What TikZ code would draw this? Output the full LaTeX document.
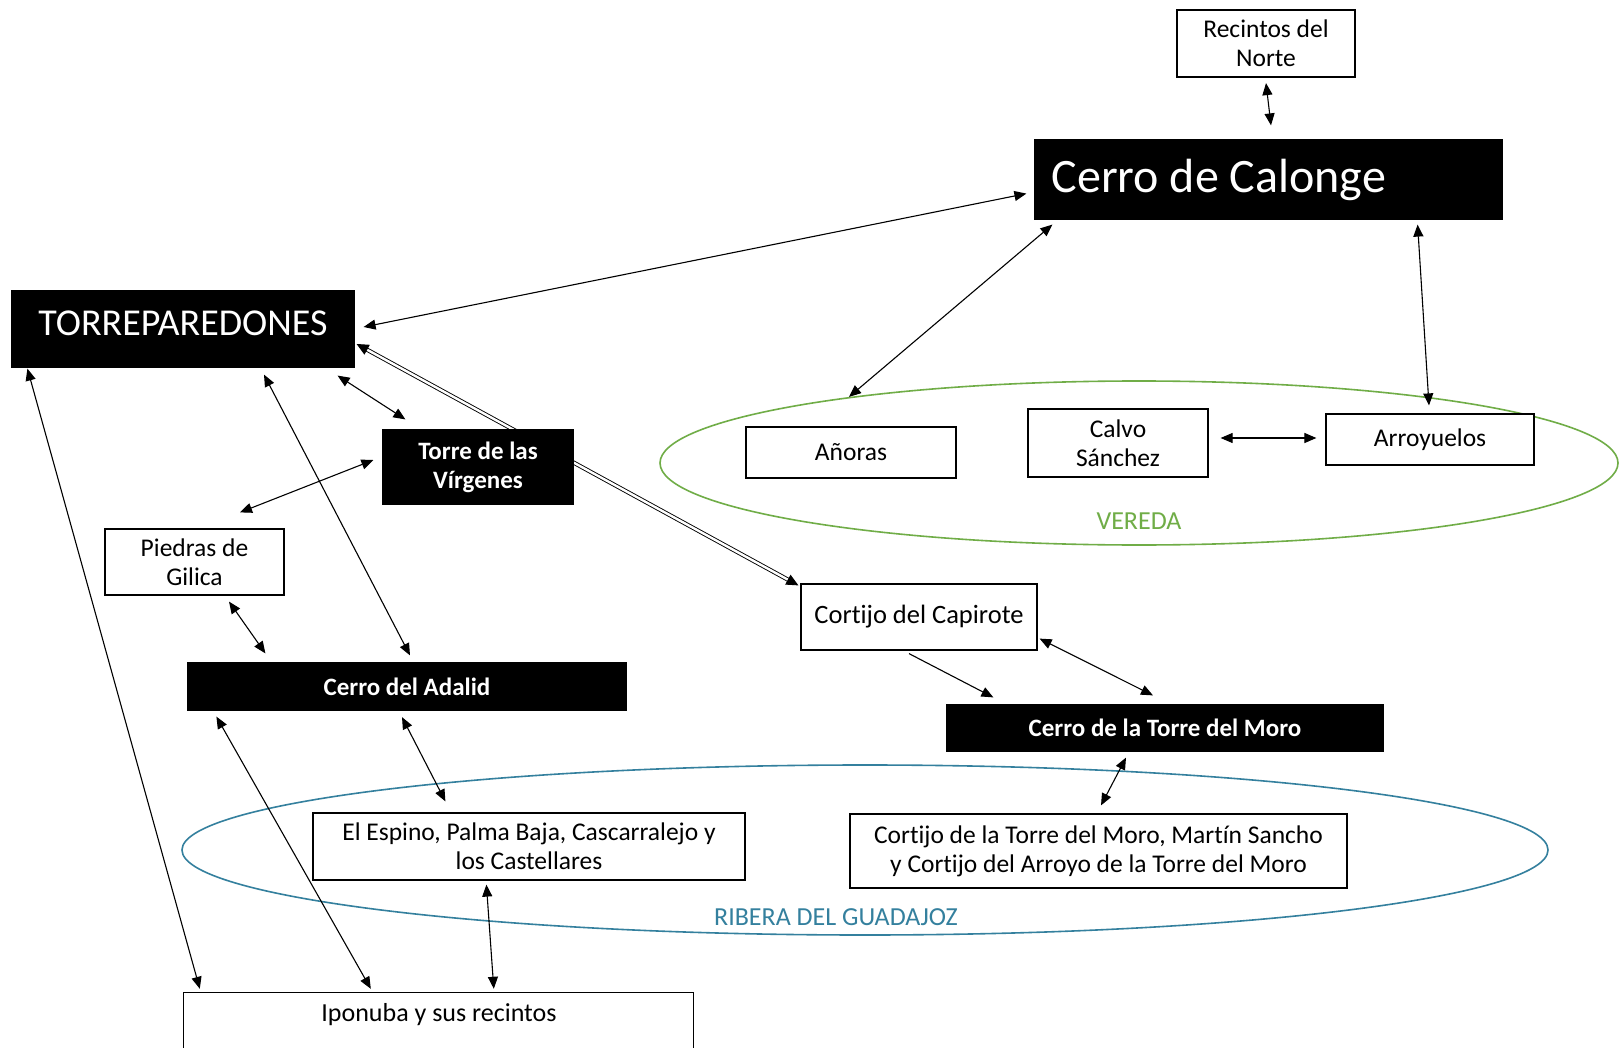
\documentclass[tikz,border=0pt]{standalone}
\usepackage{fontspec}
\setmainfont{Carlito}[Ligatures=NoCommon]
\usetikzlibrary{arrows.meta,calc}
\pgfdeclarelayer{zones}
\pgfdeclarelayer{links}
\pgfsetlayers{zones,links,main}
\definecolor{vgreen}{RGB}{112,173,71}
\definecolor{rblue}{RGB}{52,128,158}
\tikzset{
  wbox/.style={draw=black, fill=white, line width=1.2pt, inner sep=0pt, align=center,
     font=\fontsize{25.5}{29}\selectfont},
  bbox/.style={draw=black, fill=black, text=white, line width=1.2pt, inner sep=0pt, align=center,
     font=\fontsize{25}{29}\selectfont\bfseries},
  arr/.style={line width=1.1pt, {Triangle[length=12pt,width=10pt]}-{Triangle[length=12pt,width=10pt]}},
  arrone/.style={line width=1.1pt, -{Triangle[length=12pt,width=10pt]}},
  dbl/.style={line width=0.9pt, double=white, double distance=2.4pt,
     {Triangle[length=12pt,width=11pt]}-{Triangle[length=12pt,width=11pt]}},
  zone/.style={line width=1.6pt},
  zlabel/.style={font=\fontsize{26}{29}\selectfont},
}
\begin{document}
\begin{tikzpicture}[x=1pt,y=-1pt]
\clip (0,0) rectangle (1619,1048);
\begin{pgfonlayer}{zones}
\fill[white] (0,0) rectangle (1619,1048);
\draw[zone, vgreen] (1139,463) ellipse [x radius=479, y radius=82];
\draw[zone, rblue] (865,850) ellipse [x radius=683, y radius=85];
\end{pgfonlayer}
\node[text=vgreen, zlabel] (vereda) at (1139,521) {VEREDA};
\node[text=rblue, zlabel] (ribera) at (836,917) {RIBERA DEL GUADAJOZ};

\path
  (1266,43.5) node[wbox, minimum width=178pt, minimum height=67pt] (rn) {Recintos del\\Norte}
  (1268.5,179.5) node[bbox, minimum width=467pt, minimum height=79pt] (cc) {}
  (183,329) node[bbox, minimum width=342pt, minimum height=76pt, font=\fontsize{38}{40}\selectfont] (tp) {\raisebox{11pt}{TORREPAREDONES}}
  (478,467) node[bbox, minimum width=190pt, minimum height=74pt] (tv) {Torre de las\\Vírgenes}
  (194.5,562) node[wbox, minimum width=179pt, minimum height=66pt] (pg) {Piedras de\\Gilica}
  (407,686.5) node[bbox, minimum width=438pt, minimum height=47pt] (ca) {Cerro del Adalid}
  (919,617) node[wbox, minimum width=236pt, minimum height=66pt, font=\fontsize{26.5}{29}\selectfont] (cp) {Cortijo del Capirote}
  (1165,728) node[bbox, minimum width=436pt, minimum height=46pt] (ctm) {Cerro de la Torre del Moro}
  (851,452.5) node[wbox, minimum width=210pt, minimum height=51pt] (an) {Añoras}
  (1118,443) node[wbox, minimum width=180pt, minimum height=68pt] (cs) {Calvo\\Sánchez}
  (1430,439.5) node[wbox, minimum width=208pt, minimum height=51pt] (ar) {Arroyuelos}
  (529,846.5) node[wbox, minimum width=432pt, minimum height=67pt] (ee) {El Espino, Palma Baja, Cascarralejo y\\los Castellares}
  (1098.5,851) node[wbox, minimum width=497pt, minimum height=74pt] (ct) {Cortijo de la Torre del Moro, Martín Sancho\\y Cortijo del Arroyo de la Torre del Moro}
  (439,1015) node[minimum width=510pt, minimum height=44pt, inner sep=0pt] (ip) {};
\node[anchor=west, text=white, inner sep=0pt, font=\fontsize{48}{50}\selectfont] (cctext) at ([shift={(17,0)}]cc.west) {Cerro de Calonge};
\draw[line width=1.2pt, fill=white] (ip.north west) rectangle ++(510,80);
\node[font=\fontsize{26}{29}\selectfont] (iptext) at (ip) {Iponuba y sus recintos};

\begin{pgfonlayer}{links}
\draw[dbl] ([shift={(2,15)}]tp.east) -- ([shift={(-2,2)}]cp.north west);
\draw[arr] ([shift={(9,-2)}]tp.east) -- ([shift={(-8,-26)}]cc.south west);
\draw[arr] ([shift={(18,5)}]cc.south west) -- ([shift={(-2,-29.5)}]an.north);
\draw[arr] ([shift={(-85,5)}]cc.south east) -- ([shift={(-1,-8)}]ar.north);
\draw[arr] ([shift={(0,5.5)}]rn.south) -- ([shift={(2.5,-14)}]cc.north);
\draw[arr] ([shift={(12,-5)}]cs.east) -- ([shift={(-9,-1.5)}]ar.west);
\draw[arr] ([shift={(-17,8)}]tp.south east) -- ([shift={(23,-10)}]tv.north west);
\draw[arr] ([shift={(-9,-7)}]tv.west) -- ([shift={(45.5,-16)}]pg.north);
\draw[arr] ([shift={(81,7)}]tp.south) -- ([shift={(3,-7)}]ca.north);
\draw[arr] ([shift={(16,1)}]tp.south west) -- ([shift={(16,-4)}]ip.north west);
\draw[arr] ([shift={(34.5,6)}]pg.south) -- ([shift={(78,-9)}]ca.north west);
\draw[arr] ([shift={(-5,6.5)}]ca.south) -- ([shift={(133,-11)}]ee.north west);
\draw[arr] ([shift={(29,6)}]ca.south west) -- ([shift={(187,-4)}]ip.north west);
\draw[arr] ([shift={(174,4)}]ee.south west) -- ([shift={(310,-4)}]ip.north west);
\draw[arrone] ([shift={(-10,3)}]cp.south) -- ([shift={(47,-7)}]ctm.north west);
\draw[arr] ([shift={(2,-12)}]cp.south east) -- ([shift={(-12,-9)}]ctm.north);
\draw[arr] ([shift={(-39,6)}]ctm.south) -- ([shift={(2.5,-8)}]ct.north);
\end{pgfonlayer}
\end{tikzpicture}
\end{document}
